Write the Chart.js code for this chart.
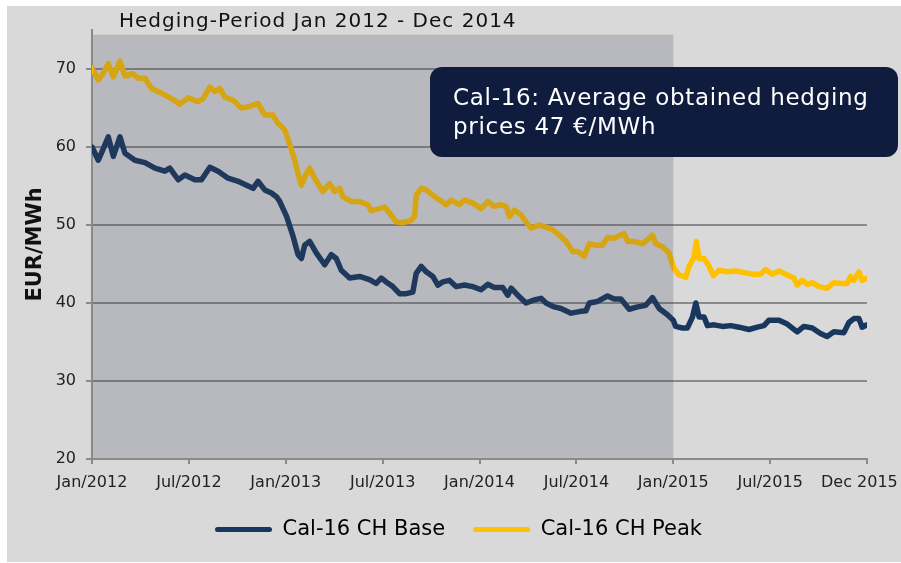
<!DOCTYPE html>
<html>
<head>
<meta charset="utf-8">
<script src="https://cdn.jsdelivr.net/npm/chart.js@4.4.1/dist/chart.umd.min.js"></script>
<style>
  html, body { margin: 0; padding: 0; background: #fff; }
  #wrap { width: 901px; height: 563px; position: relative; }
</style>
</head>
<body>
<div id="wrap"><canvas id="myChart" width="901" height="563"></canvas></div>
<script>
// x values are months since Jan 2012 (0 = Jan/2012, 48 = end of 2015)
const xTickLabels = ['Jan/2012', 'Jul/2012', 'Jan/2013', 'Jul/2013', 'Jan/2014', 'Jul/2014', 'Jan/2015', 'Jul/2015', 'Dec 2015'];
const yTicks = [20, 30, 40, 50, 60, 70];

const baseMonths = [
  0, 0.39, 0.70, 1.01, 1.32, 1.73, 2.04, 2.66, 3.28, 3.90,
  4.51, 4.82, 5.34, 5.75, 6.37, 6.78, 7.30, 7.81, 8.43, 9.05,
  9.67, 9.98, 10.28, 10.70, 11.11, 11.44, 11.63, 12.05, 12.46, 12.76,
  12.97, 13.17, 13.48, 13.90, 14.41, 14.82, 15.13, 15.44, 15.96, 16.57,
  17.19, 17.60, 17.91, 18.22, 18.63, 19.05, 19.46, 19.87, 20.08, 20.39,
  20.70, 21.11, 21.42, 21.73, 22.14, 22.55, 23.07, 23.58, 24.10, 24.51,
  24.92, 25.44, 25.75, 25.96, 26.37, 26.88, 27.40, 27.81, 28.12, 28.63,
  29.05, 29.67, 30.18, 30.59, 30.80, 31.31, 31.93, 32.34, 32.76, 33.27,
  33.79, 34.30, 34.71, 35.13, 35.64, 36.00, 36.15, 36.57, 36.88, 37.19,
  37.40, 37.60, 37.91, 38.12, 38.53, 39.05, 39.56, 40.07, 40.69, 41.21,
  41.62, 41.93, 42.55, 43.06, 43.68, 44.09, 44.61, 45.12, 45.53, 45.95,
  46.57, 46.88, 47.19, 47.50, 47.70, 48.00
];
const baseValues = [
  60.0, 58.3, 59.8, 61.3, 58.8, 61.3, 59.2, 58.3, 58.0, 57.3,
  56.9, 57.3, 55.8, 56.4, 55.8, 55.8, 57.4, 56.9, 56.0, 55.6,
  55.0, 54.7, 55.6, 54.5, 54.1, 53.6, 53.0, 51.1, 48.5, 46.2,
  45.7, 47.4, 47.9, 46.4, 44.9, 46.2, 45.7, 44.2, 43.2, 43.4,
  43.0, 42.5, 43.2, 42.7, 42.1, 41.2, 41.2, 41.4, 43.8, 44.7,
  44.0, 43.4, 42.3, 42.7, 42.9, 42.1, 42.3, 42.1, 41.7, 42.4,
  42.0, 42.0, 41.0, 41.9, 41.0, 40.0, 40.4, 40.6, 40.0, 39.5,
  39.3, 38.7, 38.9, 39.0, 40.0, 40.2, 40.9, 40.5, 40.5, 39.2,
  39.5, 39.7, 40.7, 39.3, 38.5, 37.8, 37.0, 36.8, 36.8, 38.2,
  40.0, 38.2, 38.2, 37.1, 37.2, 37.0, 37.1, 36.9, 36.6, 36.9,
  37.1, 37.8, 37.8, 37.3, 36.3, 37.0, 36.8, 36.1, 35.7, 36.3,
  36.2, 37.5, 38.0, 38.0, 36.9, 37.2
];

const peakMonths = [
  0, 0.39, 0.68, 1.01, 1.32, 1.73, 2.04, 2.55, 2.86, 3.28,
  3.69, 4.31, 4.93, 5.44, 5.96, 6.57, 6.88, 7.30, 7.61, 7.92,
  8.23, 8.74, 9.26, 9.77, 10.28, 10.70, 11.21, 11.52, 11.94, 12.24,
  12.55, 12.76, 12.97, 13.28, 13.48, 13.79, 14.30, 14.72, 15.03, 15.34,
  15.54, 16.06, 16.57, 17.09, 17.30, 17.81, 18.12, 18.43, 18.84, 19.25,
  19.77, 19.98, 20.08, 20.39, 20.70, 21.11, 21.52, 21.94, 22.25, 22.76,
  23.07, 23.58, 24.10, 24.51, 24.92, 25.34, 25.65, 25.85, 26.16, 26.57,
  26.88, 27.19, 27.71, 28.12, 28.53, 28.94, 29.36, 29.77, 30.07, 30.49,
  30.80, 31.21, 31.62, 31.93, 32.34, 32.96, 33.17, 33.58, 34.09, 34.40,
  34.71, 34.92, 35.33, 35.74, 36.05, 36.36, 36.78, 36.98, 37.29, 37.43,
  37.60, 37.91, 38.22, 38.48, 38.84, 39.35, 39.87, 40.38, 40.90, 41.42,
  41.72, 42.14, 42.55, 43.06, 43.48, 43.68, 43.99, 44.30, 44.61, 45.02,
  45.53, 45.95, 46.46, 46.77, 46.98, 47.19, 47.50, 47.70, 48.00
];
const peakValues = [
  70.1, 68.6, 69.4, 70.7, 69.0, 71.0, 69.1, 69.4, 68.8, 68.8,
  67.5, 66.9, 66.2, 65.5, 66.3, 65.8, 66.2, 67.7, 67.1, 67.5,
  66.4, 66.0, 65.0, 65.2, 65.6, 64.1, 64.1, 63.0, 62.2, 60.4,
  58.3, 56.6, 55.1, 56.6, 57.3, 56.0, 54.3, 55.3, 54.3, 54.7,
  53.6, 53.0, 53.0, 52.6, 51.8, 52.1, 52.3, 51.5, 50.4, 50.3,
  50.6, 51.1, 53.8, 54.7, 54.5, 53.8, 53.2, 52.6, 53.2, 52.6,
  53.2, 52.8, 52.1, 53.0, 52.4, 52.6, 52.4, 51.1, 51.9, 51.3,
  50.4, 49.6, 50.0, 49.7, 49.4, 48.7, 47.9, 46.6, 46.6, 46.0,
  47.6, 47.4, 47.4, 48.4, 48.3, 48.9, 47.9, 47.9, 47.6, 48.1,
  48.7, 47.6, 47.2, 46.4, 44.4, 43.6, 43.3, 44.7, 45.9, 47.9,
  45.7, 45.7, 44.7, 43.5, 44.2, 44.0, 44.1, 43.9, 43.7, 43.7,
  44.3, 43.7, 44.1, 43.6, 43.2, 42.3, 42.9, 42.4, 42.6, 42.1,
  41.9, 42.6, 42.5, 42.5, 43.4, 42.9, 44.0, 42.9, 43.2
];

// hedging period shading (in data units)
const hedgeStart = 0;
const hedgeEnd = 36;
const hedgeTop = 74.4;

const FONT = 'DejaVu Sans';

const toPoints = (months, values) => months.map((m, i) => ({ x: m, y: values[i] }));

const panelPlugin = {
  id: 'panel',
  beforeDraw(chart) {
    const ctx = chart.ctx;
    ctx.save();
    ctx.fillStyle = '#ffffff';
    ctx.fillRect(0, 0, chart.width, chart.height);
    ctx.fillStyle = '#d9d9d9';
    ctx.fillRect(7, 6, chart.width - 7, chart.height - 7);
    ctx.restore();
  }
};

const hedgePlugin = {
  id: 'hedge',
  afterDatasetsDraw(chart) {
    const { ctx, scales: { x, y } } = chart;
    const left = x.getPixelForValue(hedgeStart) + 1;
    const right = x.getPixelForValue(hedgeEnd);
    const top = y.getPixelForValue(hedgeTop);
    const bottom = y.getPixelForValue(y.min) - 1;
    ctx.save();
    ctx.fillStyle = 'rgba(60, 65, 88, 0.21)';
    ctx.fillRect(left, top, right - left, bottom - top);
    ctx.restore();
  }
};

const notesPlugin = {
  id: 'notes',
  afterDraw(chart) {
    const ctx = chart.ctx;
    ctx.save();
    // period title
    ctx.fillStyle = '#111';
    ctx.font = '20px "' + FONT + '"';
    ctx.letterSpacing = '1px';
    ctx.textBaseline = 'alphabetic';
    ctx.fillText('Hedging-Period Jan 2012 - Dec 2014', 119, 27);
    // callout box
    ctx.fillStyle = '#0f1c3d';
    ctx.beginPath();
    ctx.roundRect(430, 67, 468, 90, 12);
    ctx.fill();
    ctx.fillStyle = '#ffffff';
    ctx.font = '23px "' + FONT + '"';
    ctx.letterSpacing = '0.7px';
    ctx.fillText('Cal-16: Average obtained hedging', 453, 105);
    ctx.fillText('prices 47 €/MWh', 453, 134);
    ctx.restore();
  }
};

const ctx = document.getElementById('myChart').getContext('2d');
const myChart = new Chart(ctx, {
  type: 'line',
  data: {
    datasets: [{
      label: 'Cal-16 CH Base',
      data: toPoints(baseMonths, baseValues),
      borderColor: '#17375e',
      backgroundColor: '#17375e',
      borderWidth: 5.5,
      pointRadius: 0,
      borderJoinStyle: 'round',
      borderCapStyle: 'round'
    }, {
      label: 'Cal-16 CH Peak',
      data: toPoints(peakMonths, peakValues),
      borderColor: '#ffc000',
      backgroundColor: '#ffc000',
      borderWidth: 5.5,
      pointRadius: 0,
      borderJoinStyle: 'round',
      borderCapStyle: 'round'
    }]
  },
  options: {
    responsive: false,
    animation: false,
    layout: { padding: { left: 50, right: 34, top: 30, bottom: 13 } },
    scales: {
      x: {
        type: 'linear',
        min: 0,
        max: 48,
        afterBuildTicks: s => { s.ticks = xTickLabels.map((l, i) => ({ value: i * 6 })); },
        afterFit: s => { s.height = 32; s.paddingLeft = 0; s.paddingRight = 0; },
        grid: { drawOnChartArea: false, tickLength: 5, tickColor: '#8a8a8a', lineWidth: 2 },
        border: { color: '#8a8a8a', width: 2 },
        ticks: {
          color: '#222',
          font: { family: FONT, size: 16 },
          padding: 9,
          maxRotation: 0,
          autoSkip: false,
          // last label sits left of its tick in the original, trailing spaces shift it
          callback: (v, i) => xTickLabels[i] + (i === xTickLabels.length - 1 ? '   ' : '')
        }
      },
      y: {
        min: 20,
        max: 75,
        afterBuildTicks: s => { s.ticks = yTicks.map(v => ({ value: v })); },
        afterFit: s => { s.width = 42; },
        grid: { color: '#8a8a8a', lineWidth: 2, tickLength: 6, tickColor: '#8a8a8a' },
        border: { color: '#8a8a8a', width: 2 },
        ticks: { color: '#222', font: { family: FONT, size: 16 }, padding: 10 },
        title: {
          display: true,
          text: 'EUR/MWh',
          color: '#111',
          font: { family: FONT, size: 21, weight: 'bold' },
          padding: { top: -26.6, bottom: 0 }
        }
      }
    },
    plugins: {
      tooltip: { enabled: false },
      legend: {
        position: 'bottom',
        labels: {
          boxWidth: 57,
          boxHeight: 5,
          padding: 28,
          color: '#111',
          font: { family: FONT, size: 21 },
          generateLabels: chart => chart.data.datasets.map((ds, i) => ({
            text: ds.label,
            fillStyle: ds.borderColor,
            strokeStyle: ds.borderColor,
            lineWidth: 0,
            borderRadius: 2.5,
            hidden: false,
            datasetIndex: i
          }))
        }
      }
    }
  },
  plugins: [panelPlugin, hedgePlugin, notesPlugin]
});
</script>
</body>
</html>
